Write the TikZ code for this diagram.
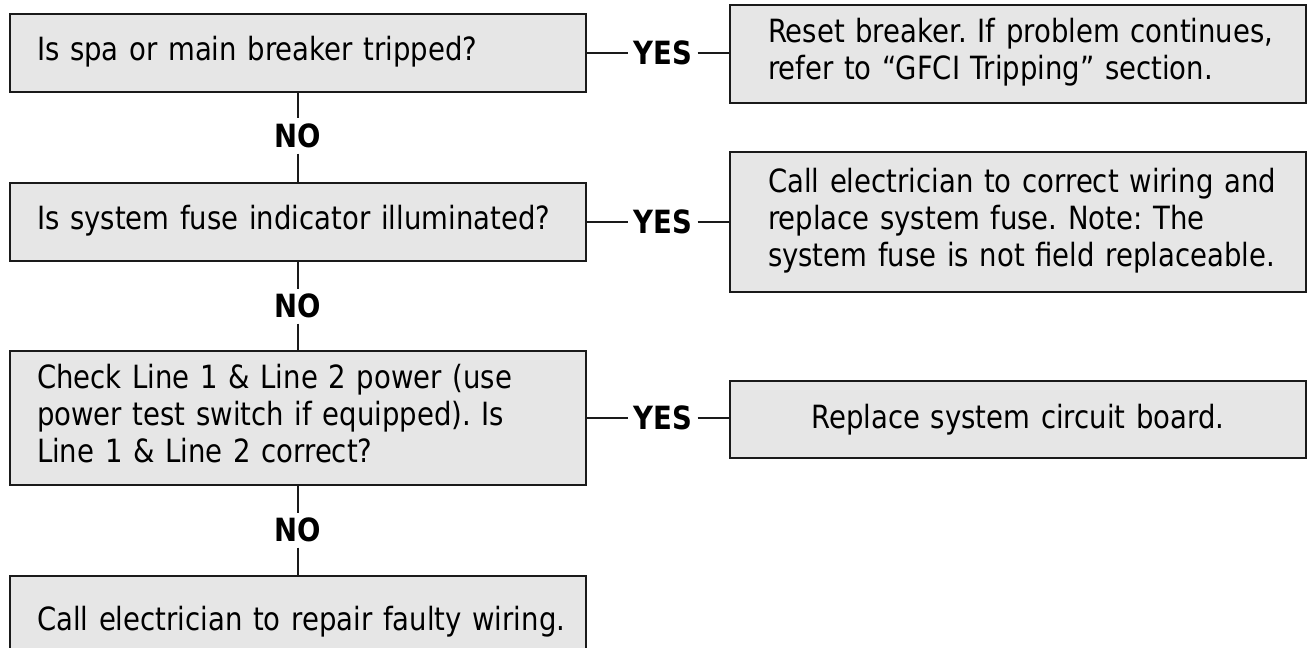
\documentclass[tikz,border=0pt]{standalone}
\usepackage{fontspec}
\setmainfont{DejaVu Sans}[FakeStretch=0.86]
\usepackage{tikz}
\usetikzlibrary{positioning}
\definecolor{boxgray}{HTML}{E6E6E6}
\definecolor{boxline}{HTML}{1A1A1A}
\tikzstyle{flow edge}=[line width=1.2pt,draw=boxline]
\tikzstyle{flow box}=[draw=boxline,line width=1.3pt,fill=boxgray,font=\fontsize{16}{18.5}\selectfont\frenchspacing,inner ysep=0pt]
\tikzstyle{question}=[flow box,text width=261pt,inner xsep=13.5pt,align=left]
\tikzstyle{answer}=[flow box,text width=250pt,inner xsep=19pt,align=left]
\tikzstyle{choice}=[font=\fontsize{16}{18.5}\selectfont\bfseries,inner sep=2.5pt]
\newcommand{\flownode}[3][]{
  \node [#1] (#2) {#3}
}
% one box of lines that are never broken
\newcommand{\flowlines}[2][l]{\begin{tabular}{@{}#1@{}}#2\end{tabular}}
\begin{document}
\begin{tikzpicture}[x=0.5pt,y=-0.5pt]
        \useasboundingbox (0,0) rectangle (1308,648);
        \flownode[question,minimum height=39pt,at={(298,53)}]{q1}{\flowlines{Is spa or main breaker tripped?}};
        \flownode[question,minimum height=39pt,at={(298,222)}]{q2}{\flowlines{Is system fuse indicator illuminated?}};
        \flownode[question,minimum height=67pt,at={(298,418)}]{q3}{\flowlines{Check Line 1 \& Line 2 power (use\\power test switch if equipped). Is\\Line 1 \& Line 2 correct?}};
        \flownode[question,minimum height=47pt,at={(298,623)}]{q4}{\flowlines{Call electrician to repair faulty wiring.}};

        \flownode[answer,minimum height=49pt,at={(1018,54)}]{a1}{\flowlines{Reset breaker. If problem continues,\\refer to “GFCI Tripping” section.}};
        \flownode[answer,minimum height=70pt,at={(1018,222)}]{a2}{\flowlines{Call electrician to correct wiring and\\replace system fuse. Note: The\\system fuse is not field replaceable.}};
        \flownode[answer,align=center,minimum height=38.5pt,at={(1018,419.5)}]{a3}{Replace system circuit board.};

        \flownode[choice,at={(298,136)}]{no1}{NO};
        \flownode[choice,at={(298,306)}]{no2}{NO};
        \flownode[choice,at={(298,530)}]{no3}{NO};
        \flownode[choice,right=20.5pt of q1]{yes1}{YES};
        \flownode[choice,right=20.5pt of q2]{yes2}{YES};
        \flownode[choice,right=20.5pt of q3]{yes3}{YES};

            \draw[flow edge] (q1) -- (no1);
            \draw[flow edge] (no1) -- (q2);
            \draw[flow edge] (q2) -- (no2);
            \draw[flow edge] (no2) -- (q3);
            \draw[flow edge] (q3) -- (no3);
            \draw[flow edge] (no3) -- (q4);

            \draw[flow edge] (q1) -- (yes1);
            \draw[flow edge] (yes1) -- (yes1 -| a1.west);
            \draw[flow edge] (q2) -- (yes2);
            \draw[flow edge] (yes2) -- (yes2 -| a2.west);
            \draw[flow edge] (q3) -- (yes3);
            \draw[flow edge] (yes3) -- (yes3 -| a3.west);
\end{tikzpicture}
\end{document}
